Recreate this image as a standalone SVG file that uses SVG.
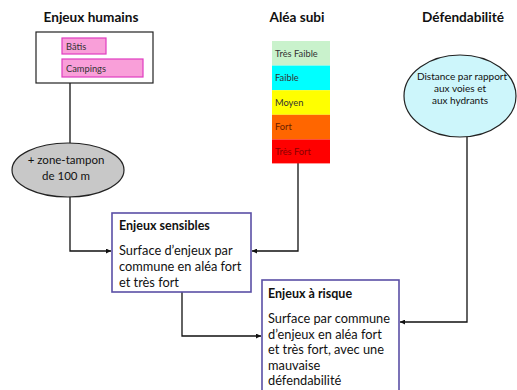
<svg xmlns="http://www.w3.org/2000/svg" width="517" height="390" viewBox="0 0 517 390">
<style>
text{font-family:Lato,"Open Sans","Liberation Sans",sans-serif;fill:#111}
.title{font-size:13.6px;font-weight:bold;text-anchor:middle}
.body{font-size:12.8px}
.bold{font-size:12.5px;font-weight:bold}
.small{font-size:9.3px;fill:#333}
.pink{fill:#f99fd9;stroke:#e03cc0;stroke-width:1.2}
.box{fill:#fff;stroke:#222;stroke-width:1.2}
.pbox{fill:#fff;stroke:#5a4fa6;stroke-width:1.6}
.conn{fill:none;stroke:#111;stroke-width:1.3}
.mid{text-anchor:middle}
</style>
<defs>
<marker id="ah" viewBox="0 0 10 10" refX="10" refY="5" markerWidth="5" markerHeight="5" orient="auto" markerUnits="userSpaceOnUse">
<path d="M0,0 L10,5 L0,10 z" fill="#111"/>
</marker>
</defs>
<rect width="517" height="390" fill="#fff"/>

<text class="title" x="91" y="22">Enjeux humains</text>
<text class="title" x="297" y="22">Aléa subi</text>
<text class="title" x="463" y="22">Défendabilité</text>

<g id="connectors">
<path class="conn" d="M70,83 L70,143"/>
<path class="conn" d="M70,197 L70,251 L111,251" marker-end="url(#ah)"/>
<path class="conn" d="M298,163 L298,251 L252,251" marker-end="url(#ah)"/>
<path class="conn" d="M182,292 L182,336 L261,336" marker-end="url(#ah)"/>
<path class="conn" d="M467,137 L467,322 L400,322" marker-end="url(#ah)"/>
</g>

<g id="enjeux-humains">
<rect class="box" x="36" y="32" width="117" height="51"/>
<rect class="pink" x="62" y="38" width="44" height="16"/>
<text class="small" x="66" y="49.5">Bâtis</text>
<rect class="pink" x="62" y="59" width="81" height="18"/>
<text class="small" x="66" y="71.5">Campings</text>
</g>

<g id="alea">
<rect x="272" y="41" width="58" height="24.6" fill="#c9f2cc"/>
<text class="small" x="275" y="56.5">Très Faible</text>
<rect x="272" y="65.6" width="58" height="24.6" fill="#00ffff"/>
<text class="small" x="275" y="81">Faible</text>
<rect x="272" y="90.2" width="58" height="24.6" fill="#ffff00"/>
<text class="small" x="275" y="105.5">Moyen</text>
<rect x="272" y="114.8" width="58" height="24.6" fill="#ff6600"/>
<text class="small" x="275" y="130" style="fill:#6a2000">Fort</text>
<rect x="272" y="139.4" width="58" height="24" fill="#ff0000"/>
<text class="small" x="275" y="154.5" style="fill:#8a0000">Très Fort</text>
</g>

<g id="defendabilite">
<ellipse cx="460" cy="96" rx="56" ry="41" fill="#cdf6fb" stroke="#222" stroke-width="1.2"/>
<text class="mid" x="462" y="80" style="font-size:10px">Distance par rapport</text>
<text class="mid" x="460" y="92" style="font-size:10px">aux voies et</text>
<text class="mid" x="460" y="104" style="font-size:10px">aux hydrants</text>
</g>

<g id="zone-tampon">
<ellipse cx="68" cy="170" rx="56" ry="27" fill="#c8c8c8" stroke="#222" stroke-width="1.2"/>
<text class="mid" x="66" y="164" style="font-size:11.5px">+ zone-tampon</text>
<text class="mid" x="66" y="179.5" style="font-size:11.5px">de 100 m</text>
</g>

<g id="enjeux-sensibles">
<rect class="pbox" x="112" y="213" width="139" height="79"/>
<text class="bold" x="119" y="230">Enjeux sensibles</text>
<text class="body" x="119" y="255">Surface d’enjeux par</text>
<text class="body" x="119" y="271">commune en aléa fort</text>
<text class="body" x="119" y="287">et très fort</text>
</g>

<g id="enjeux-risque">
<rect class="pbox" x="262" y="280" width="137" height="115"/>
<text class="bold" x="268" y="298">Enjeux à risque</text>
<text class="body" x="268" y="323">Surface par commune</text>
<text class="body" x="268" y="338.5">d’enjeux en aléa fort</text>
<text class="body" x="268" y="354">et très fort, avec une</text>
<text class="body" x="268" y="369.5">mauvaise</text>
<text class="body" x="268" y="385">défendabilité</text>
</g>
</svg>
